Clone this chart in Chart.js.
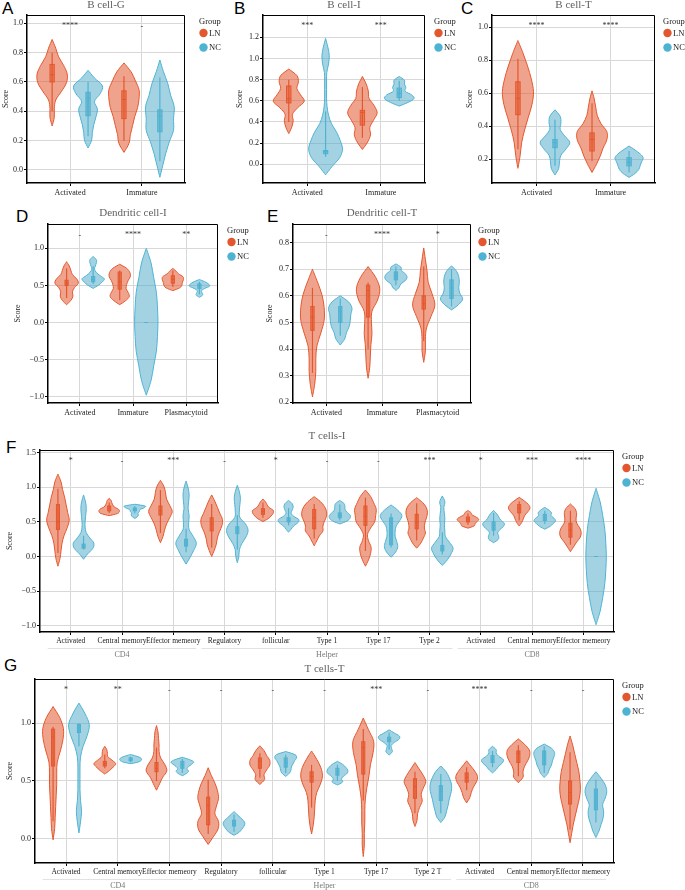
<!DOCTYPE html>
<html>
<head>
<meta charset="utf-8">
<script src="https://cdn.jsdelivr.net/npm/chart.js@4.4.1/dist/chart.umd.min.js"></script>
<style>
  body { margin: 0; background: #fff; width: 685px; height: 890px; position: relative; overflow: hidden; }
  canvas { position: absolute; }
  .tag { position: absolute; font: 17px/17px "Liberation Sans", Arial, sans-serif; color: #000; }
</style>
</head>
<body>
<div class="tag" style="left:2px;top:0px">A</div>
<div class="tag" style="left:234px;top:0px">B</div>
<div class="tag" style="left:461px;top:0px">C</div>
<div class="tag" style="left:16px;top:208px">D</div>
<div class="tag" style="left:267px;top:208px">E</div>
<div class="tag" style="left:6px;top:439px">F</div>
<div class="tag" style="left:4px;top:657px">G</div>
<canvas id="cA"></canvas>
<canvas id="cB"></canvas>
<canvas id="cC"></canvas>
<canvas id="cD"></canvas>
<canvas id="cE"></canvas>
<canvas id="cF"></canvas>
<canvas id="cG"></canvas>
<script>
// each violin: [min, max, density (half width, % of category step) at even levels between, [whisker lo, q1, median, q3, whisker hi]]

// A  B cell-G
const aCats = ['Activated', 'Immature'];
const aLN = [
  [0.30, 0.89, [3, 3, 5, 13, 20, 21, 16, 9, 5], [0.40, 0.60, 0.65, 0.72, 0.80]],
  [0.12, 0.73, [7, 9, 12, 15, 19, 21, 21, 16, 10], [0.20, 0.35, 0.48, 0.54, 0.64]]
];
const aNC = [
  [0.15, 0.68, [5, 6, 8, 11, 13, 9, 17, 20, 9], [0.23, 0.37, 0.49, 0.53, 0.60]],
  [-0.05, 0.75, [4, 8, 13, 19, 19, 20, 15, 11, 5], [0.06, 0.26, 0.37, 0.41, 0.63]]
];
const aSig = ['****', '-'];
const aTicks = [0, 0.2, 0.4, 0.6, 0.8, 1.0];

// B  B cell-I
const bCats = ['Activated', 'Immature'];
const bLN = [
  [0.29, 0.90, [4, 6, 5, 12, 21, 16, 11, 13, 11], [0.40, 0.58, 0.62, 0.74, 0.80]],
  [0.14, 0.83, [7, 11, 10, 15, 20, 16, 9, 8, 5], [0.25, 0.37, 0.49, 0.51, 0.73]]
];
const bNC = [
  [-0.10, 1.19, [9, 19, 23, 20, 15, 8, 4, 2, 1.3, 1.3, 1.3, 1.6, 4, 5, 3], [0.07, 0.10, 0.12, 0.13, 0.50]],
  [0.55, 0.83, [12, 20, 17, 8, 9, 7, 7], [0.60, 0.63, 0.67, 0.72, 0.79]]
];
const bSig = ['***', '***'];
const bTicks = [0, 0.2, 0.4, 0.6, 0.8, 1.0, 1.2];

// C  B cell-T
const cCats = ['Activated', 'Immature'];
const cLN = [
  [0.145, 0.92, [3, 5, 9, 14, 19, 21, 18, 13, 7], [0.26, 0.47, 0.57, 0.67, 0.81]],
  [0.12, 0.615, [6, 11, 15, 20, 20, 12, 7, 5, 3], [0.19, 0.25, 0.32, 0.36, 0.54]]
];
const cNC = [
  [0.105, 0.50, [5, 6, 8, 15, 20, 13, 7, 8, 7], [0.16, 0.27, 0.30, 0.32, 0.44]],
  [0.09, 0.28, [8, 13, 15, 17, 19, 15, 8], [0.12, 0.16, 0.18, 0.21, 0.25]]
];
const cSig = ['****', '****'];
const cTicks = [0.2, 0.4, 0.6, 0.8, 1.0];

// D  Dendritic cell-I
const dCats = ['Activated', 'Immature', 'Plasmacytoid'];
const dLN = [
  [0.24, 0.82, [8, 12, 11, 15, 22, 19, 11, 8, 5], [0.33, 0.50, 0.53, 0.57, 0.73]],
  [0.24, 0.785, [11, 18, 16, 12, 13, 16, 20, 19, 13], [0.30, 0.45, 0.55, 0.68, 0.70]],
  [0.43, 0.73, [13, 17, 18, 20, 19, 11, 6], [0.48, 0.53, 0.58, 0.63, 0.70]]
];
const dNC = [
  [0.46, 0.89, [10, 17, 21, 13, 6, 2.5, 4, 6, 6], [0.52, 0.55, 0.58, 0.62, 0.76]],
  [-0.98, 1.0, [9, 14, 19, 21, 22, 21, 19, 14, 9], [0, 0, 0, 0, 0]],
  [0.34, 0.58, [6, 5, 4, 10, 19, 17, 10], [0.38, 0.46, 0.50, 0.52, 0.55]]
];
const dSig = ['-', '****', '**'];
const dTicks = [-1, -0.5, 0, 0.5, 1];

// E  Dendritic cell-T
const eCats = ['Activated', 'Immature', 'Plasmacytoid'];
const eLN = [
  [0.22, 0.70, [4, 6, 6, 8, 15, 21, 21, 17, 9], [0.31, 0.47, 0.52, 0.56, 0.63]],
  [0.29, 0.71, [3, 4, 5, 7, 6, 7, 17, 21, 14], [0.40, 0.52, 0.62, 0.64, 0.65]],
  [0.35, 0.78, [3, 3, 5, 13, 20, 15, 8, 6, 3], [0.43, 0.55, 0.57, 0.60, 0.71]]
];
const eNC = [
  [0.415, 0.60, [8, 11, 16, 18, 19, 21, 15], [0.45, 0.50, 0.54, 0.56, 0.59]],
  [0.62, 0.72, [6, 9, 17, 20, 17, 10, 9], [0.64, 0.66, 0.675, 0.69, 0.71]],
  [0.547, 0.713, [13, 20, 15, 13, 14, 13, 9], [0.56, 0.59, 0.63, 0.66, 0.70]]
];
const eSig = ['-', '****', '*'];
const eTicks = [0.2, 0.3, 0.4, 0.5, 0.6, 0.7, 0.8];

// F  T cells-I
const fCats = ['Activated', 'Central memory', 'Effector memeory', 'Regulatory', 'follicular',
  'Type 1', 'Type 17', 'Type 2', 'Activated', 'Central memory', 'Effector memeory'];
const fLN = [
  [-0.14, 1.19, [4, 6, 8, 12, 18, 22, 19, 16, 13, 9, 6], [0.05, 0.39, 0.50, 0.75, 0.98]],
  [0.59, 0.84, [16, 20, 18, 10, 7, 5, 4], [0.63, 0.66, 0.70, 0.73, 0.78]],
  [0.20, 1.10, [5, 8, 12, 18, 23, 18, 12, 10, 7], [0.34, 0.60, 0.66, 0.73, 0.96]],
  [0.0, 0.89, [5, 9, 11, 15, 20, 21, 16, 11, 6], [0.13, 0.37, 0.47, 0.56, 0.76]],
  [0.505, 0.83, [10, 16, 20, 20, 12, 8, 5], [0.56, 0.61, 0.65, 0.69, 0.78]],
  [0.155, 0.865, [5, 10, 17, 17, 20, 24, 24, 20, 12], [0.26, 0.40, 0.56, 0.68, 0.76]],
  [-0.14, 0.96, [6, 10, 11, 6, 4, 10, 18, 20, 21, 16, 10], [0.08, 0.45, 0.58, 0.73, 0.85]],
  [0.12, 0.85, [8, 13, 17, 15, 16, 19, 21, 19, 12], [0.23, 0.40, 0.50, 0.61, 0.77]],
  [0.41, 0.665, [12, 14, 18, 21, 16, 8, 6], [0.46, 0.50, 0.53, 0.57, 0.62]],
  [0.44, 0.855, [5, 8, 11, 17, 21, 18, 10], [0.52, 0.63, 0.70, 0.75, 0.80]],
  [0.07, 0.76, [6, 12, 19, 21, 18, 12, 11, 12, 9], [0.17, 0.28, 0.38, 0.48, 0.66]]
];
const fNC = [
  [-0.04, 0.89, [8, 18, 20, 12, 5, 3, 3, 4, 5, 5, 3], [0.10, 0.12, 0.15, 0.18, 0.30]],
  [0.55, 0.755, [5, 7, 6, 9, 10, 18, 20], [0.62, 0.66, 0.68, 0.70, 0.73]],
  [-0.11, 1.09, [8, 15, 20, 14, 6, 5, 6, 4, 5, 6, 4], [0.06, 0.15, 0.20, 0.25, 0.40]],
  [-0.09, 1.03, [3, 4, 9, 17, 21, 16, 5, 4, 5, 6, 4], [0.10, 0.33, 0.38, 0.43, 0.60]],
  [0.35, 0.81, [5, 10, 18, 20, 10, 5, 7, 9, 7], [0.45, 0.50, 0.52, 0.56, 0.70]],
  [0.47, 0.81, [14, 20, 20, 14, 10, 10, 8], [0.52, 0.56, 0.59, 0.63, 0.75]],
  [-0.01, 0.745, [9, 13, 11, 8, 8, 10, 17, 21, 13], [0.13, 0.17, 0.50, 0.56, 0.62]],
  [-0.13, 0.875, [10, 17, 21, 14, 6, 5, 4, 5, 4, 3, 5], [0.03, 0.08, 0.11, 0.16, 0.35]],
  [0.20, 0.665, [9, 10, 8, 12, 19, 21, 14, 10, 6], [0.30, 0.38, 0.45, 0.50, 0.63]],
  [0.395, 0.71, [10, 16, 21, 18, 12, 13, 8], [0.47, 0.52, 0.56, 0.61, 0.66]],
  [-0.985, 0.985, [8, 13, 17, 19, 20, 19, 17, 13, 8], [0, 0, 0, 0, 0]]
];
const fSig = ['*', '-', '***', '-', '*', '-', '-', '***', '*', '***', '****'];
const fTicks = [-1, -0.5, 0, 0.5, 1, 1.5];
const fGroups = [['CD4', 0, 2], ['Helper', 3, 7], ['CD8', 8, 10]];

// G  T cells-T
const gCats = ['Activated', 'Central memory', 'Effector memeory', 'Regulatory', 'follicular',
  'Type 1', 'Type 17', 'Type 2 T', 'Activated', 'Central memory', 'Effector memeory'];
const gLN = [
  [-0.01, 1.145, [3, 4, 5, 6, 7, 7, 8, 14, 19, 20, 13], [0.15, 0.63, 0.88, 0.95, 0.97]],
  [0.56, 0.80, [9, 16, 21, 14, 6, 5, 4], [0.61, 0.63, 0.65, 0.67, 0.73]],
  [0.42, 0.98, [6, 12, 20, 16, 8, 5, 5, 4, 3], [0.50, 0.58, 0.61, 0.66, 0.79]],
  [-0.05, 0.615, [10, 19, 20, 13, 16, 20, 18, 13, 6], [0.04, 0.12, 0.29, 0.36, 0.51]],
  [0.47, 0.805, [9, 8, 13, 19, 19, 13, 8], [0.53, 0.61, 0.67, 0.70, 0.74]],
  [0.04, 0.76, [3, 5, 6, 7, 10, 17, 21, 18, 10], [0.27, 0.49, 0.54, 0.58, 0.64]],
  [-0.155, 1.045, [2, 2, 3, 3, 4, 7, 11, 14, 19, 20, 10], [0.33, 0.56, 0.79, 0.84, 0.95]],
  [0.105, 0.66, [4, 5, 9, 14, 12, 16, 21, 16, 8], [0.22, 0.35, 0.45, 0.52, 0.58]],
  [0.31, 0.675, [6, 9, 13, 19, 21, 16, 8], [0.42, 0.49, 0.53, 0.57, 0.62]],
  [0.485, 0.865, [9, 9, 12, 18, 22, 21, 12], [0.54, 0.66, 0.74, 0.76, 0.81]],
  [-0.035, 0.89, [3, 6, 10, 14, 18, 20, 19, 17, 13, 9, 5], [0.08, 0.30, 0.40, 0.50, 0.75]]
];
const gNC = [
  [0.05, 1.175, [3, 5, 3, 2, 2, 2, 3, 8, 16, 20, 12], [0.80, 0.92, 0.96, 0.99, 1.0]],
  [0.65, 0.73, [14, 20, 21, 18, 10], [0.66, 0.675, 0.685, 0.70, 0.71]],
  [0.545, 0.705, [8, 12, 9, 12, 18, 22, 14], [0.57, 0.61, 0.64, 0.67, 0.69]],
  [0.03, 0.235, [10, 15, 19, 21, 18, 12, 6], [0.06, 0.11, 0.13, 0.16, 0.21]],
  [0.54, 0.755, [7, 10, 11, 14, 17, 21, 18], [0.57, 0.62, 0.66, 0.70, 0.73]],
  [0.465, 0.67, [10, 8, 12, 19, 20, 16, 10], [0.50, 0.55, 0.58, 0.61, 0.64]],
  [0.725, 0.943, [6, 5, 4, 10, 19, 20, 10], [0.77, 0.84, 0.86, 0.88, 0.92]],
  [0.14, 0.63, [8, 11, 14, 16, 19, 21, 20, 16, 10], [0.22, 0.33, 0.41, 0.46, 0.56]],
  [0.57, 0.80, [7, 12, 19, 21, 12, 7, 7], [0.62, 0.66, 0.69, 0.72, 0.76]],
  [0.53, 0.82, [7, 10, 14, 16, 19, 20, 14], [0.57, 0.64, 0.72, 0.76, 0.80]],
  [0.01, 0.58, [6, 10, 14, 15, 13, 18, 21, 18, 10], [0.14, 0.25, 0.36, 0.43, 0.51]]
];
const gSig = ['*', '**', '-', '-', '-', '-', '***', '-', '****', '-', '-'];
const gTicks = [0, 0.5, 1.0];
const gGroups = [['CD4', 0, 2], ['Helper', 3, 7], ['CD8', 8, 10]];

const SERIF = '"Liberation Serif", "Times New Roman", serif';
const LN_LINE = '#e4572e', LN_FILL = 'rgba(228,87,46,0.55)';
const NC_LINE = '#4eb3d3', NC_FILL = 'rgba(72,168,200,0.5)';
Chart.defaults.font.family = SERIF;

function fmt(v) {
  return v.toFixed(1).replace('-', '\u2212');
}

// catmull-rom through the outline points
function smooth(ctx, p) {
  for (let i = 0; i < p.length - 1; i++) {
    const p0 = p[i - 1] || p[i], p1 = p[i], p2 = p[i + 1], p3 = p[i + 2] || p2;
    ctx.bezierCurveTo(
      p1[0] + (p2[0] - p0[0]) / 6, p1[1] + (p2[1] - p0[1]) / 6,
      p2[0] - (p3[0] - p1[0]) / 6, p2[1] - (p3[1] - p1[1]) / 6,
      p2[0], p2[1]);
  }
}

function drawViolin(ctx, cx, v, ys, unit, line, fill) {
  const [lo, hi, dens, box] = v;
  const n = dens.length + 1;
  const pts = [[0, lo]];
  dens.forEach((d, k) => pts.push([d, lo + (hi - lo) * (k + 1) / n]));
  pts.push([0, hi]);
  const right = pts.map(p => [cx + p[0] / 100 * unit, ys.getPixelForValue(p[1])]);
  const left = pts.slice().reverse().map(p => [cx - p[0] / 100 * unit, ys.getPixelForValue(p[1])]);
  ctx.beginPath();
  ctx.moveTo(right[0][0], right[0][1]);
  smooth(ctx, right);
  smooth(ctx, left);
  ctx.closePath();
  ctx.fillStyle = fill;
  ctx.fill();
  ctx.strokeStyle = line;
  ctx.lineWidth = 1;
  ctx.stroke();

  // boxplot inside
  const [w1, q1, md, q3, w2] = box;
  const bw = 0.03 * unit;
  const y = val => ys.getPixelForValue(val);
  ctx.lineWidth = 1.2;
  ctx.beginPath();
  ctx.moveTo(cx, y(w1));
  ctx.lineTo(cx, y(w2));
  ctx.stroke();
  ctx.fillStyle = fill;
  ctx.fillRect(cx - bw, y(q3), 2 * bw, y(q1) - y(q3));
  ctx.lineWidth = 1;
  ctx.strokeRect(cx - bw, y(q3), 2 * bw, y(q1) - y(q3));
  ctx.beginPath();
  ctx.moveTo(cx - bw, y(md));
  ctx.lineTo(cx + bw, y(md));
  ctx.stroke();
}

const violinPlugin = {
  id: 'violins',
  afterDatasetsDraw(chart, args, opts) {
    const ctx = chart.ctx, xs = chart.scales.x, ys = chart.scales.y, a = chart.chartArea;
    const unit = xs.getPixelForValue(1) - xs.getPixelForValue(0);
    ctx.save();
    ctx.beginPath();
    ctx.rect(a.left, a.top, a.right - a.left, a.bottom - a.top);
    ctx.clip();
    chart.data.datasets.forEach((ds, di) => {
      const meta = chart.getDatasetMeta(di);
      ds.violins.forEach((v, i) => {
        drawViolin(ctx, meta.data[i].x, v, ys, unit, ds.borderColor, ds.backgroundColor);
      });
    });
    ctx.restore();

    // significance marks
    ctx.save();
    ctx.font = '8px ' + SERIF;
    ctx.fillStyle = '#333';
    ctx.textAlign = 'center';
    ctx.textBaseline = 'alphabetic';
    opts.sig.forEach((s, i) => {
      const x = xs.getPixelForValue(i + 1);
      ctx.fillText(s, x, a.top + (s === '-' ? 13.5 : 13));
    });
    ctx.restore();
  },
  afterDraw(chart, args, opts) {
    const ctx = chart.ctx, xs = chart.scales.x, a = chart.chartArea;
    ctx.save();
    // top and right frame
    ctx.strokeStyle = '#000';
    ctx.lineWidth = 1;
    ctx.beginPath();
    ctx.moveTo(a.left, a.top + 0.5);
    ctx.lineTo(a.right - 0.5, a.top + 0.5);
    ctx.lineTo(a.right - 0.5, a.bottom);
    ctx.stroke();

    // legend
    const gx = a.right + opts.legendDx;
    ctx.font = '8.5px ' + SERIF;
    ctx.textAlign = 'left';
    ctx.textBaseline = 'middle';
    ctx.fillStyle = '#222';
    ctx.fillText('Group', gx, a.top + 6.5);
    chart.data.datasets.forEach((ds, k) => {
      const yy = a.top + 18 + k * 14.5;
      ctx.beginPath();
      ctx.arc(gx + 4.5, yy, 4.2, 0, 2 * Math.PI);
      ctx.fillStyle = ds.borderColor;
      ctx.fill();
      ctx.fillStyle = '#222';
      ctx.fillText(ds.label, gx + 10, yy + 0.5);
    });

    // category groups under the axis
    if (opts.groups) {
      ctx.font = '8px ' + SERIF;
      ctx.textAlign = 'center';
      opts.groups.forEach(([name, i0, i1]) => {
        const x0 = xs.getPixelForValue(i0 + 1 - 0.45), x1 = xs.getPixelForValue(i1 + 1 + 0.45);
        ctx.strokeStyle = '#e2e2e2';
        ctx.beginPath();
        ctx.moveTo(x0, a.bottom + 16.5);
        ctx.lineTo(x1, a.bottom + 16.5);
        ctx.stroke();
        ctx.fillStyle = '#777';
        ctx.fillText(name, (x0 + x1) / 2, a.bottom + 22.5);
      });
    }
    ctx.restore();
  }
};

function makePanel(id, title, canvasBox, area, cats, ln, nc, sig, ticks, yMin, yMax, legendDx, groups) {
  const cv = document.getElementById(id);
  const w = canvasBox.r - canvasBox.l, h = canvasBox.b - canvasBox.t;
  cv.width = w;
  cv.height = h;
  cv.style.left = canvasBox.l + 'px';
  cv.style.top = canvasBox.t + 'px';
  cv.style.width = w + 'px';
  cv.style.height = h + 'px';
  const yw = area.l - canvasBox.l;
  const xh = canvasBox.b - area.b;
  const padTitle = area.t - canvasBox.t - 11;
  const padR = canvasBox.r - area.r;
  const gridCol = '#d8d8d8';
  const xFont = cats.length > 5 ? 7.5 : 8;

  new Chart(cv, {
    type: 'scatter',
    data: {
      datasets: [
        { label: 'LN', data: ln.map((v, i) => ({ x: i + 1 - 0.25, y: v[3][2] })), violins: ln,
          borderColor: LN_LINE, backgroundColor: LN_FILL, pointRadius: 0, pointHoverRadius: 0 },
        { label: 'NC', data: nc.map((v, i) => ({ x: i + 1 + 0.25, y: v[3][2] })), violins: nc,
          borderColor: NC_LINE, backgroundColor: NC_FILL, pointRadius: 0, pointHoverRadius: 0 }
      ]
    },
    options: {
      responsive: false,
      animation: false,
      devicePixelRatio: 1,
      layout: { padding: { left: 0, top: 0, right: padR, bottom: 0 } },
      plugins: {
        legend: { display: false },
        tooltip: { enabled: false },
        title: {
          display: true, text: title, fullSize: false, color: '#606060',
          font: { family: SERIF, size: 11, weight: 'normal', lineHeight: 1 },
          padding: { top: 0, bottom: padTitle }
        },
        violins: { sig: sig, legendDx: legendDx, groups: groups }
      },
      scales: {
        x: {
          type: 'linear', min: 0.4, max: cats.length + 0.6,
          afterBuildTicks: s => { s.ticks = cats.map((c, i) => ({ value: i + 1 })); },
          afterFit: s => { s.height = xh; },
          ticks: {
            autoSkip: false, maxRotation: 0, minRotation: 0, padding: 2, color: '#1a1a1a',
            font: { family: SERIF, size: xFont },
            callback: v => cats[Math.round(v) - 1]
          },
          grid: { color: gridCol, tickColor: '#000', tickLength: 3, lineWidth: 1 },
          border: { color: '#000', width: 1.5 }
        },
        y: {
          min: yMin, max: yMax,
          afterBuildTicks: s => { s.ticks = ticks.map(v => ({ value: v })); },
          afterFit: s => { s.width = yw; },
          ticks: {
            padding: 1, color: '#1a1a1a', font: { family: SERIF, size: 8 },
            callback: v => fmt(v)
          },
          title: { display: true, text: 'Score', color: '#1a1a1a', padding: 0,
            font: { family: SERIF, size: 8, lineHeight: 1.2 } },
          grid: { color: gridCol, tickColor: '#000', tickLength: 3, lineWidth: 1 },
          border: { color: '#000', width: 1.5 }
        }
      }
    },
    plugins: [violinPlugin]
  });
}

makePanel('cA', 'B cell-G', { l: 1, t: 0, r: 230, b: 200 }, { l: 27, t: 15, r: 185, b: 183 },
  aCats, aLN, aNC, aSig, aTicks, -0.089, 1.057, 14);
makePanel('cB', 'B cell-I', { l: 235, t: 0, r: 462, b: 200 }, { l: 263, t: 15, r: 425, b: 183 },
  bCats, bLN, bNC, bSig, bTicks, -0.177, 1.411, 9);
makePanel('cC', 'B cell-T', { l: 465, t: 0, r: 685, b: 200 }, { l: 492, t: 15, r: 655, b: 183 },
  cCats, cLN, cNC, cSig, cTicks, 0.056, 1.075, 8);
makePanel('cD', 'Dendritic cell-I', { l: 13, t: 208, r: 262, b: 420 }, { l: 48, t: 224, r: 218, b: 403 },
  dCats, dLN, dNC, dSig, dTicks, -1.085, 1.328, 9);
makePanel('cE', 'Dendritic cell-T', { l: 265, t: 208, r: 540, b: 420 }, { l: 293, t: 224, r: 471, b: 403 },
  eCats, eLN, eNC, eSig, eTicks, 0.197, 0.87, 7);
makePanel('cF', 'T cells-I', { l: 5, t: 431, r: 685, b: 664 }, { l: 40, t: 450, r: 614, b: 632 },
  fCats, fLN, fNC, fSig, fTicks, -1.091, 1.539, 8, fGroups);
makePanel('cG', 'T cells-T', { l: 5, t: 664, r: 685, b: 890 }, { l: 35, t: 679, r: 614, b: 863 },
  gCats, gLN, gNC, gSig, gTicks, -0.211, 1.384, 8, gGroups);
</script>
</body>
</html>
